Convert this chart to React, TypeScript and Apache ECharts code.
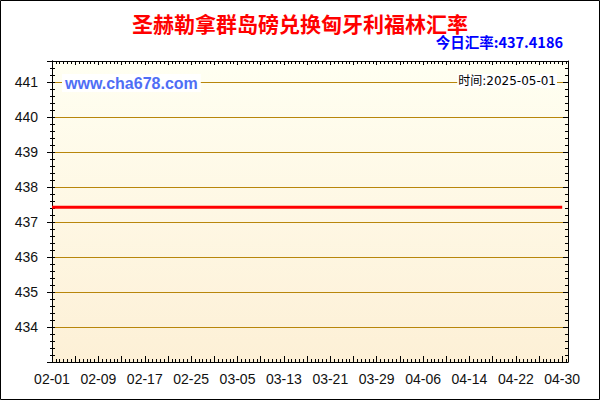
import {useEffect, useRef} from 'react';
import * as echarts from 'echarts';

// 圣赫勒拿群岛磅 -> 匈牙利福林, 2025-02-01 .. 2025-04-30
const startDate = '2025-02-01';
const rateDates = [
    '2025-02-01', '2025-02-09', '2025-02-17', '2025-02-25', '2025-03-05', '2025-03-13',
    '2025-03-21', '2025-03-29', '2025-04-06', '2025-04-14', '2025-04-22', '2025-04-30',
];
const rateValues = [
    437.4186, 437.4186, 437.4186, 437.4186, 437.4186, 437.4186,
    437.4186, 437.4186, 437.4186, 437.4186, 437.4186, 437.4186,
];
const xTickLabels = ['02-01', '02-09', '02-17', '02-25', '03-05', '03-13', '03-21', '03-29', '04-06', '04-14', '04-22', '04-30'];
const yMin = 433;
const yMax = 441.6;
const titleText = '圣赫勒拿群岛磅兑换匈牙利福林汇率';
const todayText = '今日汇率:437.4186';
const siteText = 'www.cha678.com';
const timeText = '时间:2025-05-01';

const DAY = 86400000;
const dayOf = (d: string) => Math.round((Date.parse(d) - Date.parse(startDate)) / DAY);

const App = () => {
    const chartRef = useRef<HTMLDivElement>(null);

    useEffect(() => {
        document.body.style.margin = '0';
        const myChart = echarts.init(chartRef.current!, null, {renderer: 'svg'});

        const tickLine = {lineStyle: {color: '#000', width: 1}};
        const axisLine = {show: true, onZero: false, lineStyle: {color: '#000', width: 1}};
        const xBase = {
            type: 'value' as const,
            min: 0,
            max: 89,
            interval: 4,
            axisLine,
            splitLine: {show: false},
        };
        const yBase = {
            type: 'value' as const,
            min: yMin,
            max: yMax,
            interval: 1,
            axisLine,
        };

        myChart.setOption({
            animation: false,
            backgroundColor: '#fff',
            title: {
                text: titleText,
                left: 'center',
                top: 7,
                textStyle: {color: '#ff0000', fontSize: 21, fontWeight: 'bold', fontFamily: 'Noto Sans CJK SC'},
            },
            grid: {
                left: 52,
                right: 32,
                top: 61,
                bottom: 38,
                show: true,
                borderWidth: 0,
                backgroundColor: new echarts.graphic.LinearGradient(0, 0, 0, 1, [
                    {offset: 0, color: '#fffff2'},
                    {offset: 1, color: '#fdf0d6'},
                ]),
            },
            xAxis: [
                {
                    ...xBase,
                    position: 'bottom',
                    axisTick: {show: true, inside: true, length: 6, ...tickLine},
                    minorTick: {show: true, splitNumber: 6, length: 3, ...tickLine},
                    axisLabel: {
                        margin: 10,
                        fontSize: 14,
                        color: '#111',
                        fontFamily: 'Liberation Sans',
                        showMaxLabel: false,
                        formatter: (v: number) => (v % 8 === 0 ? xTickLabels[v / 8] ?? '' : ''),
                    },
                },
                {
                    ...xBase,
                    position: 'top',
                    axisTick: {show: true, inside: true, length: 4, ...tickLine},
                    minorTick: {show: true, splitNumber: 6, length: 3, ...tickLine},
                    axisLabel: {show: false},
                },
            ],
            yAxis: [
                {
                    ...yBase,
                    position: 'left',
                    axisTick: {show: true, inside: false, length: 5, ...tickLine},
                    minorTick: {show: true, splitNumber: 5, length: 2, ...tickLine},
                    splitLine: {show: true, lineStyle: {color: '#b8860b', width: 1}},
                    axisLabel: {
                        margin: 14,
                        fontSize: 14,
                        color: '#111',
                        fontFamily: 'Liberation Sans',
                        showMinLabel: false,
                        showMaxLabel: false,
                    },
                },
                {
                    ...yBase,
                    position: 'left',
                    axisTick: {show: true, inside: true, length: 3, ...tickLine},
                    minorTick: {show: true, splitNumber: 5, length: 3, ...tickLine},
                    splitLine: {show: false},
                    axisLabel: {show: false},
                },
                {
                    ...yBase,
                    position: 'right',
                    axisTick: {show: true, inside: true, length: 5, ...tickLine},
                    minorTick: {show: true, splitNumber: 5, length: 3, ...tickLine},
                    splitLine: {show: false},
                    axisLabel: {show: false},
                },
            ],
            series: [
                {
                    type: 'line',
                    xAxisIndex: 0,
                    yAxisIndex: 0,
                    symbol: 'none',
                    lineStyle: {color: '#ff0000', width: 3},
                    data: rateDates.map((d, i) => [dayOf(d), rateValues[i]]),
                    z: 5,
                },
            ],
            graphic: [
                {
                    type: 'rect',
                    shape: {x: 0.5, y: 0.5, width: 599, height: 399},
                    style: {fill: 'none', stroke: '#000', lineWidth: 1},
                    silent: true,
                },
                {
                    type: 'text',
                    right: 37,
                    top: 34,
                    style: {
                        text: todayText,
                        fill: '#0000ff',
                        font: 'bold 14.5px "Noto Sans CJK SC", sans-serif',
                    },
                },
                {
                    type: 'text',
                    left: 62,
                    top: 74,
                    z: 10,
                    style: {
                        text: siteText,
                        fill: '#4f6ef5',
                        font: 'bold 16px "Liberation Sans", Arial, sans-serif',
                        backgroundColor: '#fff',
                        padding: [1, 3, 1, 3],
                    },
                },
                {
                    type: 'text',
                    right: 43,
                    top: 74,
                    z: 10,
                    style: {
                        text: timeText,
                        fill: '#000',
                        font: '12px "DejaVu Sans", "Noto Sans CJK SC", sans-serif',
                        backgroundColor: '#fff',
                        padding: [1, 1, 1, 1],
                    },
                },
            ],
        });

        return () => {
            myChart.dispose();
        };
    }, []);

    return <div ref={chartRef} style={{width: '600px', height: '400px'}} />;
};

export default App;
